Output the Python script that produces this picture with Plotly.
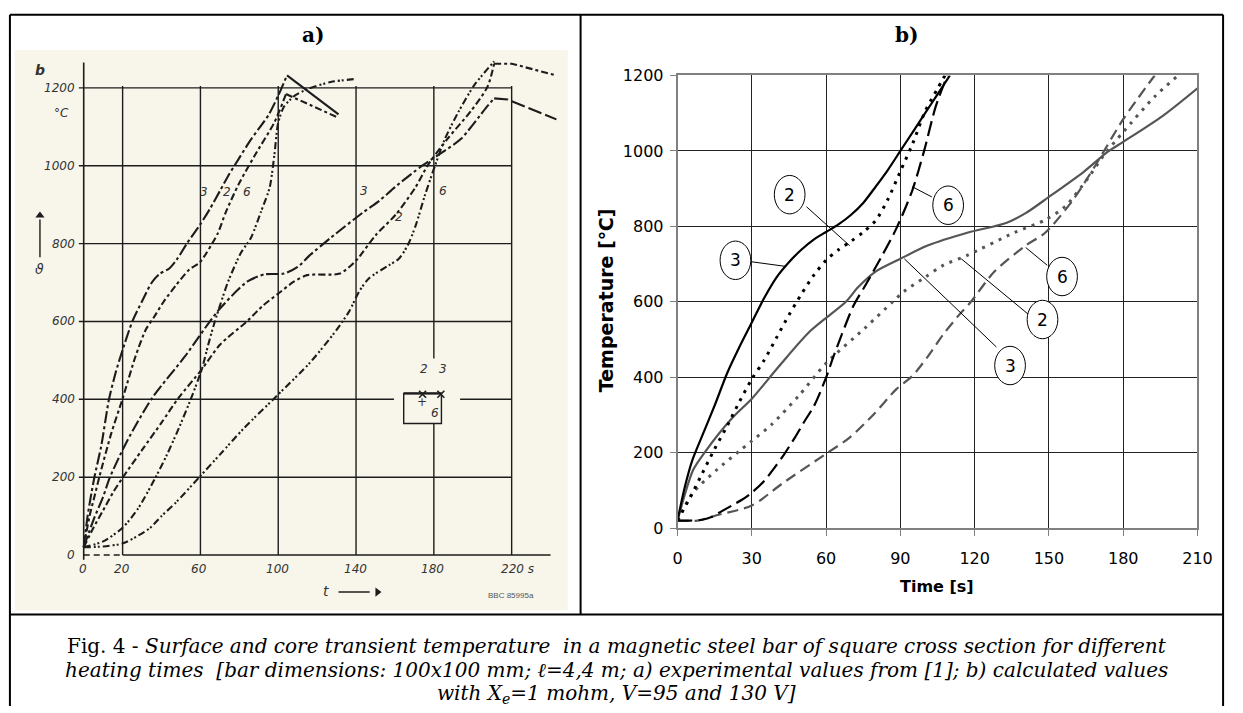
import plotly.graph_objects as go

W, H = 1243, 713

# ======================= DATA =======================
# ---- panel a) experimental values (time s, temperature degC) ----
a_left3_t = [0, 2, 4, 5.5, 9, 13, 16.5, 20, 25, 30, 35, 39, 44, 48, 53, 60, 65, 70, 75, 80, 85, 90, 95, 100, 104.5]
a_left3_T = [20, 100, 160, 200, 280, 400, 470, 527, 600, 652, 700, 722, 736, 760, 800, 850, 890, 935, 980, 1020, 1060, 1095, 1130, 1180, 1232]
a_left3_fall_t = [104.5, 131]
a_left3_fall_T = [1232, 1132]

a_left2_t = [0, 3, 5.5, 8, 14, 20, 26.6, 32, 36, 41, 47.6, 54.4, 59.4, 63, 66, 69, 73, 79.6, 88, 98, 104]
a_left2_T = [20, 100, 150, 200, 310, 402, 510, 580, 610, 650, 694, 734, 750, 775, 800, 827, 880, 952, 1027, 1111, 1184]
a_left2_fall_t = [104, 131]
a_left2_fall_T = [1184, 1123]

a_left6_t = [0, 10, 20, 28, 37, 43, 49, 55, 60.7, 64, 67.4, 70, 74.2, 80.9, 86, 91, 95.6, 98, 100, 103, 108, 115, 127, 140]
a_left6_T = [20, 35, 70, 120, 200, 260, 327, 400, 477, 540, 600, 640, 702, 777, 815, 880, 944, 1027, 1111, 1152, 1178, 1197, 1215, 1223]

a_right3_t = [0, 5, 10, 13.5, 22, 35, 52, 69, 84, 93, 103, 110, 116, 127, 143.6, 152, 160, 174, 186, 194, 207, 211]
a_right3_T = [20, 90, 150, 200, 290, 402, 510, 627, 702, 721, 723, 740, 769, 815, 880, 910, 945, 1000, 1040, 1069, 1150, 1173]
a_right3_fall_t = [211, 218, 243]
a_right3_fall_T = [1173, 1170, 1119]

a_right2_t = [0, 5, 10, 15, 20.2, 30, 40, 48.5, 60.7, 70, 84.3, 92, 100.4, 108, 114.8, 131.7, 140.1, 150.2, 160.5, 170.5, 177, 187, 199, 207.6, 211]
a_right2_T = [20, 70, 115, 160, 200, 270, 340, 402, 477, 540, 602, 640, 673, 702, 719, 723, 757, 822, 875, 944, 1002, 1069, 1140, 1203, 1262]
a_right2_fall_t = [211, 220, 243]
a_right2_fall_T = [1262, 1262, 1232]

a_right6_t = [0, 10, 20.2, 28, 34, 40, 47.6, 59.4, 70, 82.6, 99.5, 116.3, 129.8, 136.6, 141.6, 146.7, 156.8, 162, 166.5, 170.5, 175.6, 180.6, 185.7, 192.4, 200.8, 211]
a_right6_T = [20, 22, 30, 50, 69, 100, 136, 200, 258, 327, 410, 494, 577, 627, 677, 711, 744, 761, 795, 844, 927, 1000, 1069, 1136, 1207, 1268]

a_xticks = [0, 20, 60, 100, 140, 180, 220]
a_xtick_text = ["0", "20", "60", "100", "140", "180", "220 s"]
a_yticks = [0, 200, 400, 600, 800, 1000, 1200]

# inset (cross-section sketch) points
a_inset_x_t = [174.2, 183.6]
a_inset_x_T = [413, 413]

# ---- panel b) calculated values ----
b_surf130_t = [0, 3, 6, 10, 15, 20, 25, 30, 35, 40, 45, 50, 55, 60, 65, 70, 75, 80, 85, 90, 95, 100, 105, 110]
b_surf130_T = [20, 110, 180, 245, 325, 410, 480, 545, 610, 665, 705, 738, 765, 785, 805, 830, 862, 905, 950, 1000, 1050, 1100, 1150, 1200]

b_mid130_t = [0, 5, 10, 15, 20, 25, 30, 35, 40, 45, 50, 55, 60, 65, 70, 75, 80, 85, 90, 95, 100, 105, 108]
b_mid130_T = [20, 80, 145, 210, 270, 335, 395, 445, 505, 565, 620, 670, 710, 738, 760, 785, 815, 872, 946, 1020, 1105, 1165, 1200]

b_core130_t = [0, 5, 10, 14, 17.4, 22, 26, 30, 35, 39.5, 43, 47.4, 51, 55.3, 60, 63, 66.4, 71.1, 76, 82, 88.5, 94.8, 99.5, 104.3, 109]
b_core130_T = [20, 20, 22, 30, 43, 60, 75, 94, 125, 163, 195, 240, 280, 326, 399, 455, 514, 590, 645, 715, 796, 895, 998, 1118, 1200]

b_surf95_t = [0, 3, 6.3, 11, 22, 30, 41, 53.7, 68, 72.7, 80, 90, 101, 117, 132.7, 140.6, 150, 164.3, 173.8, 180, 196, 210]
b_surf95_T = [20, 90, 154, 201, 291, 343, 429, 523, 600, 637, 680, 714, 749, 783, 809, 835, 878, 946, 998, 1024, 1093, 1166]

b_mid95_t = [0, 6.3, 15.8, 25.3, 30, 37.9, 49, 60, 75.8, 86.9, 91.6, 100, 107.4, 117, 135.9, 148.5, 156.4, 165.9, 172.2, 180, 192.7, 202.2]
b_mid95_T = [20, 94, 154, 206, 231, 274, 351, 437, 531, 600, 628, 665, 697, 723, 783, 817, 852, 929, 989, 1050, 1144, 1200]

b_core95_t = [0, 8, 15.8, 30, 42.7, 60, 69.5, 79, 88.5, 94.8, 101, 107.4, 113.8, 118.5, 128, 140.6, 148.5, 159.6, 169, 180, 192.7]
b_core95_T = [20, 20, 34, 60, 120, 197, 240, 300, 369, 403, 454, 514, 566, 600, 680, 749, 783, 869, 964, 1084, 1200]

b_xticks = [0, 30, 60, 90, 120, 150, 180, 210]
b_yticks = [0, 200, 400, 600, 800, 1000, 1200]

# circled labels: text, centre (t, T), leader start (t, T), leader end (t, T)
b_labels = ["2", "6", "3", "6", "2", "3"]
b_label_t = [45.3, 109.3, 23.4, 155.3, 147.4, 134.3]
b_label_T = [884, 856, 710, 667, 553, 431]
b_lead_t0 = [52.1, 102.7, 30.0, 149.3, 142.2, 128.8]
b_lead_T0 = [852, 878, 706, 697, 564, 480]
b_lead_t1 = [69.5, 94.8, 43.5, 140.6, 114.6, 91.6]
b_lead_T1 = [749, 905, 694, 744, 714, 714]

# ======================= LAYOUT HELPERS =======================
def PX(px):
    return px / W


def PY(py):
    return 1 - py / H


# panel a pixel calibration of the scanned diagram
A_T0_PX, A_PX_PER_S = 80.0, 1.977
A_T0_PY, A_PX_PER_DEG = 561.0, 0.4
A_DOM_X = (10, 575)
A_DOM_Y = (30, 610)
a_xrange = [(A_DOM_X[0] - A_T0_PX) / A_PX_PER_S, (A_DOM_X[1] - A_T0_PX) / A_PX_PER_S]
a_yrange = [(A_T0_PY - A_DOM_Y[1]) / A_PX_PER_DEG, (A_T0_PY - A_DOM_Y[0]) / A_PX_PER_DEG]

fig = go.Figure()

INK = "#1c1c1c"
d3 = "12px,3px,3px,3px"
d2 = "7px,3px,3px,3px"
d6 = "7px,3px,2px,2px,2px,3px"


def a_line(t, T, dash, shape="spline"):
    fig.add_trace(go.Scatter(x=t, y=T, xaxis="x", yaxis="y", mode="lines",
                             line=dict(color=INK, width=2.1, dash=dash, shape=shape, smoothing=0.7),
                             hoverinfo="skip", showlegend=False))


a_line(a_left3_t, a_left3_T, d3)
a_line(a_left3_fall_t, a_left3_fall_T, "solid", "linear")
a_line(a_left2_t, a_left2_T, d2)
a_line(a_left2_fall_t, a_left2_fall_T, d2, "linear")
a_line(a_left6_t, a_left6_T, d6)
a_line(a_right3_t, a_right3_T, d3)
a_line(a_right3_fall_t, a_right3_fall_T, "14px,4px", "linear")
a_line(a_right2_t, a_right2_T, d2)
a_line(a_right2_fall_t, a_right2_fall_T, d2, "linear")
a_line(a_right6_t, a_right6_T, d6)

fig.add_trace(go.Scatter(x=a_inset_x_t, y=a_inset_x_T, xaxis="x", yaxis="y", mode="markers",
                         marker=dict(symbol="x-thin", size=7, line=dict(width=1.6, color=INK)),
                         hoverinfo="skip", showlegend=False))
# arrow heads of the axis symbols (vartheta up-arrow, t right-arrow)
fig.add_trace(go.Scatter(x=[-22.5], y=[872], xaxis="x", yaxis="y", mode="markers",
                         marker=dict(symbol="triangle-up", size=8, color=INK),
                         hoverinfo="skip", showlegend=False))
fig.add_trace(go.Scatter(x=[151], y=[-95], xaxis="x", yaxis="y", mode="markers",
                         marker=dict(symbol="triangle-right", size=8, color=INK),
                         hoverinfo="skip", showlegend=False))


def b_line(t, T, color, dash, width=2.2):
    fig.add_trace(go.Scatter(x=t, y=T, xaxis="x2", yaxis="y2", mode="lines",
                             line=dict(color=color, width=width, dash=dash, shape="spline", smoothing=0.8),
                             hoverinfo="skip", showlegend=False))


GREY = "#555555"
b_line(b_surf95_t, b_surf95_T, GREY, "solid")
b_line(b_mid95_t, b_mid95_T, GREY, "3px,6px", 3)
b_line(b_core95_t, b_core95_T, GREY, "11px,6px")
b_line(b_surf130_t, b_surf130_T, "#000000", "solid")
b_line(b_mid130_t, b_mid130_T, "#000000", "3px,6px", 3)
b_line(b_core130_t, b_core130_T, "#000000", "15px,6px")

shapes = []
ann = []

# ---------- table frame ----------
CREAM = "#f8f6ea"
shapes.append(dict(type="rect", xref="paper", yref="paper", x0=PX(10), x1=PX(572), y0=PY(618), y1=PY(42),
                   fillcolor=CREAM, line=dict(width=0), layer="below"))
for (x0, y0, x1, y1) in [(5, 6, 1238, 6), (5, 6, 5, 716), (1238, 6, 1238, 716), (585, 6, 585, 622), (5, 622, 1238, 622)]:
    shapes.append(dict(type="line", xref="paper", yref="paper", x0=PX(x0), y0=PY(y0), x1=PX(x1), y1=PY(y1),
                       line=dict(color="black", width=2)))

# ---------- panel a grid and axes ----------
for t in a_xticks[1:]:
    shapes.append(dict(type="line", xref="x", yref="y", x0=t, x1=t, y0=0, y1=1205,
                       line=dict(color=INK, width=1.4), layer="below"))
for T in a_yticks[1:]:
    shapes.append(dict(type="line", xref="x", yref="y", x0=-2.5, x1=220, y0=T, y1=T,
                       line=dict(color=INK, width=1.4), layer="below"))
shapes.append(dict(type="line", xref="x", yref="y", x0=0, x1=0, y0=-12, y1=1265,
                   line=dict(color=INK, width=1.6), layer="below"))
shapes.append(dict(type="line", xref="x", yref="y", x0=0, x1=20, y0=0, y1=0,
                   line=dict(color=INK, width=1.6, dash="6px,4px"), layer="below"))
shapes.append(dict(type="line", xref="x", yref="y", x0=20, x1=240, y0=0, y1=0,
                   line=dict(color=INK, width=1.6), layer="below"))
# gap in the grid around the inset sketch
shapes.append(dict(type="rect", xref="x", yref="y", x0=159.5, x1=193.5, y0=338, y1=505,
                   fillcolor=CREAM, line=dict(width=0), layer="below"))
shapes.append(dict(type="rect", xref="x", yref="y", x0=164.5, x1=183.9, y0=338, y1=415,
                   line=dict(color=INK, width=1.4), layer="below"))
shapes.append(dict(type="line", xref="x", yref="y", x0=164.5, x1=183.9, y0=415, y1=415,
                   line=dict(color=INK, width=2.2), layer="below"))
# arrow shafts of the axis symbols
shapes.append(dict(type="line", xref="x", yref="y", x0=-22.5, x1=-22.5, y0=765, y1=862,
                   line=dict(color=INK, width=1.4)))
shapes.append(dict(type="line", xref="x", yref="y", x0=131, x1=147, y0=-95, y1=-95,
                   line=dict(color=INK, width=1.4)))

# panel a tick labels
AF = dict(family="DejaVu Sans", size=12, color="#333333")
for T in a_yticks:
    ann.append(dict(xref="x", yref="y", x=-3.5, y=T, text="<i>%d</i>" % T, showarrow=False,
                    xanchor="right", yanchor="middle", font=AF))
for t, s in zip(a_xticks, a_xtick_text):
    if s.endswith("s"):
        ann.append(dict(xref="x", yref="y", x=t - 6.5, y=-37, text="<i>%s</i>" % s, showarrow=False,
                        xanchor="left", yanchor="middle", font=AF))
    else:
        ann.append(dict(xref="x", yref="y", x=t - 0.5, y=-37, text="<i>%s</i>" % s, showarrow=False,
                        xanchor="center", yanchor="middle", font=AF))

# panel a curve labels
for txt, t, T in [("3", 62, 932), ("2", 73.7, 932), ("6", 84, 932), ("3", 144, 935), ("2", 162, 869), ("6", 184.8, 936)]:
    ann.append(dict(xref="x", yref="y", x=t, y=T, text="<i>%s</i>" % txt, showarrow=False,
                    xanchor="center", yanchor="middle", font=AF))
# inset labels
for txt, t, T in [("2", 175, 477), ("3", 184.5, 477), ("+", 174, 394), ("6", 180.5, 365)]:
    ann.append(dict(xref="x", yref="y", x=t, y=T, text="<i>%s</i>" % txt if txt != "+" else "+",
                    showarrow=False, xanchor="center", yanchor="middle", font=AF))
# axis symbols
ann.append(dict(xref="x", yref="y", x=-22.5, y=1245, text="<b><i>b</i></b>", showarrow=False,
                xanchor="center", yanchor="middle", font=dict(family="DejaVu Sans", size=14, color="#333")))
ann.append(dict(xref="x", yref="y", x=-11.5, y=1135, text="<i>°C</i>", showarrow=False,
                xanchor="center", yanchor="middle", font=AF))
ann.append(dict(xref="x", yref="y", x=-22.5, y=735, text="<i>ϑ</i>", showarrow=False,
                xanchor="center", yanchor="middle", font=dict(family="DejaVu Sans", size=14, color="#333")))
ann.append(dict(xref="x", yref="y", x=124.4, y=-93, text="<i>t</i>", showarrow=False,
                xanchor="center", yanchor="middle", font=dict(family="DejaVu Sans", size=14, color="#333")))
ann.append(dict(xref="x", yref="y", x=219.5, y=-105, text="BBC 85995a", showarrow=False,
                xanchor="center", yanchor="middle",
                font=dict(family="Liberation Sans", size=8, color="#555")))

# ---------- panel b labels ----------
for i in range(len(b_labels)):
    shapes.append(dict(type="line", xref="x2", yref="y2", x0=b_lead_t0[i], y0=b_lead_T0[i],
                       x1=b_lead_t1[i], y1=b_lead_T1[i], line=dict(color="black", width=1)))
for i in range(len(b_labels)):
    shapes.append(dict(type="circle", xref="x2", yref="y2",
                       x0=b_label_t[i] - 6.2, x1=b_label_t[i] + 6.2,
                       y0=b_label_T[i] - 51, y1=b_label_T[i] + 51,
                       fillcolor="white", line=dict(color="black", width=1)))
    ann.append(dict(xref="x2", yref="y2", x=b_label_t[i], y=b_label_T[i], text=b_labels[i],
                    showarrow=False, xanchor="center", yanchor="middle",
                    font=dict(family="DejaVu Sans", size=17, color="black")))

ann.append(dict(xref="paper", yref="paper", x=PX(611), y=PY(299), text="<b>Temperature [℃]</b>",
                textangle=-90, showarrow=False, xanchor="center", yanchor="middle",
                font=dict(family="DejaVu Sans", size=19, color="black")))
ann.append(dict(xref="paper", yref="paper", x=PX(947.5), y=PY(593), text="<b>Time [s]</b>",
                showarrow=False, xanchor="center", yanchor="middle",
                font=dict(family="DejaVu Sans", size=16, color="black")))

# ---------- panel titles and caption ----------
TF = dict(family="DejaVu Serif", size=20, color="black")
ann.append(dict(xref="paper", yref="paper", x=PX(313), y=PY(27), text="<b>a)</b>", showarrow=False,
                xanchor="center", yanchor="middle", font=TF))
ann.append(dict(xref="paper", yref="paper", x=PX(916), y=PY(27), text="<b>b)</b>", showarrow=False,
                xanchor="center", yanchor="middle", font=TF))
CF = dict(family="DejaVu Serif", size=20, color="black")
caption = [
    "Fig. 4 - <i>Surface and core transient temperature  in a magnetic steel bar of square cross section for different</i>",
    "<i>heating times  [bar dimensions: 100x100 mm; ℓ=4,4 m; a) experimental values from [1]; b) calculated values</i>",
    "<i>with X<sub>e</sub>=1 mohm, V=95 and 130 V]</i>",
]
for line, py in zip(caption, [654, 679, 704]):
    ann.append(dict(xref="paper", yref="paper", x=PX(622), y=PY(py), text=line, showarrow=False,
                    xanchor="center", yanchor="middle", font=CF))

BF = dict(family="DejaVu Sans", size=16, color="black")
fig.update_layout(
    width=W, height=H, margin=dict(l=0, r=0, t=0, b=0),
    paper_bgcolor="white", plot_bgcolor="rgba(0,0,0,0)",
    showlegend=False,
    xaxis=dict(domain=[PX(A_DOM_X[0]), PX(A_DOM_X[1])], range=a_xrange, visible=False, anchor="y"),
    yaxis=dict(domain=[PY(A_DOM_Y[1]), PY(A_DOM_Y[0])], range=a_yrange, visible=False, anchor="x"),
    xaxis2=dict(domain=[PX(683.5), PX(1212)], range=[0, 210], anchor="y2", tickvals=b_xticks,
                showline=True, mirror=True, linecolor="#808080", linewidth=1.5,
                showgrid=True, gridcolor="#222222", gridwidth=1, zeroline=False,
                ticks="outside", ticklen=6, tickcolor="#808080", tickfont=BF, ticklabelstandoff=9),
    yaxis2=dict(domain=[PY(533.3), PY(68.3)], range=[0, 1200], anchor="x2", tickvals=b_yticks,
                showline=True, mirror=True, linecolor="#808080", linewidth=1.5,
                showgrid=True, gridcolor="#222222", gridwidth=1, zeroline=False,
                ticks="outside", ticklen=6, tickcolor="#808080", tickfont=BF, ticklabelstandoff=3),
    shapes=shapes, annotations=ann,
)

fig.write_html("out.html")
